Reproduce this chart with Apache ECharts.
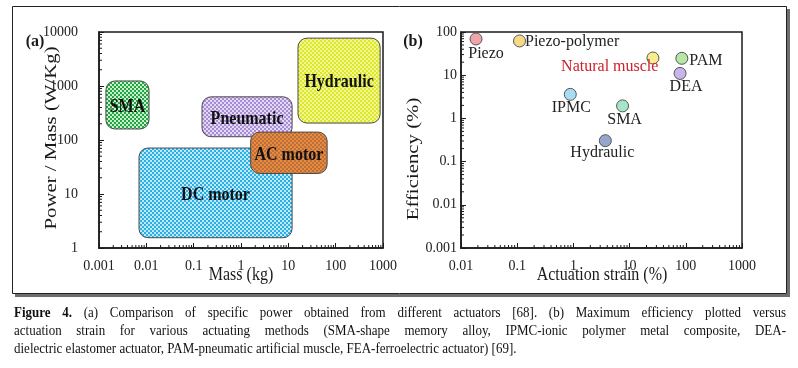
<!DOCTYPE html>
<html><head><meta charset="utf-8">
<script src="https://cdn.jsdelivr.net/npm/echarts@6/dist/echarts.min.js"></script>
<style>html,body{margin:0;padding:0;background:#fff}#c{width:798px;height:368px}</style>
</head><body><div id="c"></div>
<script>
// ---------- Panel (a): specific power vs mass (regions) ----------
const boxNames     = ['DC motor', 'Pneumatic', 'AC motor', 'SMA', 'Hydraulic'];
const boxMassMin   = [0.007, 0.15, 1.6, 0.0014, 16];
const boxMassMax   = [12, 12, 66, 0.0114, 870];
const boxPowerMin  = [1.55, 115, 24, 160, 206];
const boxPowerMax  = [71, 630, 140, 1240, 7700];

// ---------- Panel (b): efficiency vs actuation strain ----------
const actNames      = ['Piezo', 'Piezo-polymer', 'Natural muscle', 'PAM', 'DEA', 'IPMC', 'SMA', 'Hydraulic'];
const actStrain     = [0.0185, 0.11, 26, 85, 79, 0.88, 7.5, 3.7];
const actEfficiency = [69, 62, 25, 24.6, 11, 3.6, 1.95, 0.305];

// ---------- Tick labels ----------
const massTicks   = ['0.001', '0.01', '0.1', '1', '10', '100', '1000'];
const powerTicks  = ['1', '10', '100', '1000', '10000'];
const strainTicks = ['0.01', '0.1', '1', '10', '100', '1000'];
const effTicks    = ['0.001', '0.01', '0.1', '1', '10', '100'];

// ---------- Text ----------
const captionLines = [
  'Figure 4. (a) Comparison of specific power obtained from different actuators [68]. (b) Maximum efficiency plotted versus',
  'actuation strain for various actuating methods (SMA-shape memory alloy, IPMC-ionic polymer metal composite, DEA-',
  'dielectric elastomer actuator, PAM-pneumatic artificial muscle, FEA-ferroelectric actuator) [69].'
];

// ---------- Styles ----------
const SERIF = "'Liberation Serif', 'DejaVu Serif', serif";
const boxStyle = {
  'DC motor':  ['#2bb0e6', '#bfe9f9'],
  'Pneumatic': ['#a68cd4', '#e4d9f3'],
  'AC motor':  ['#ea8a3a', '#b8703e'],
  'SMA':       ['#22a443', '#c9efcf'],
  'Hydraulic': ['#dbe62c', '#f1f68e']
};
const actStyle = {
  'Piezo':          {color: '#f0a3a8', pos: 'bottom', dist: 0,  off: [10, 0], text: '#222'},
  'Piezo-polymer':  {color: '#f7da86', pos: 'right',  dist: -1, off: [0, 1],  text: '#222'},
  'Natural muscle': {color: '#f4ef8a', pos: 'left',   dist: -12, off: [0, 9], text: '#d0202a'},
  'PAM':            {color: '#b8e6a8', pos: 'right',  dist: 1,  off: [0, 2],  text: '#222'},
  'DEA':            {color: '#cab4ec', pos: 'bottom', dist: -1, off: [6, 0],  text: '#222'},
  'IPMC':           {color: '#a6ddf5', pos: 'bottom', dist: -1, off: [1, 0],  text: '#222'},
  'SMA':            {color: '#a6e5c6', pos: 'bottom', dist: -1, off: [2, 0],  text: '#222'},
  'Hydraulic':      {color: '#97a6cc', pos: 'bottom', dist: -2, off: [-3, 0], text: '#222'}
};

function checker(c1, c2) {
  const cv = document.createElement('canvas');
  cv.width = 4; cv.height = 4;
  const g = cv.getContext('2d');
  g.fillStyle = c2; g.fillRect(0, 0, 4, 4);
  g.fillStyle = c1; g.fillRect(0, 0, 2, 2); g.fillRect(2, 2, 2, 2);
  return {image: cv, repeat: 'repeat'};
}
const patterns = {};
boxNames.forEach(n => patterns[n] = checker(boxStyle[n][0], boxStyle[n][1]));

function tickFmt(list, offset) {
  return v => list[Math.round(Math.log10(v)) + offset] || '';
}

// minor tick positions (axis decoration only)
function minorVals(k0, k1) {
  const out = [];
  for (let k = k0; k < k1; k++) for (let m = 2; m <= 9; m++) out.push(m * Math.pow(10, k));
  return out;
}

const chart = echarts.init(document.getElementById('c'), null, {renderer: 'canvas'});

const axisCommon = {
  type: 'log', logBase: 10,
  axisLine: {show: true, onZero: false, lineStyle: {color: '#1a1a1a', width: 1.5}},
  axisTick: {show: true, inside: true, length: 5, lineStyle: {color: '#1a1a1a', width: 1}},
  splitLine: {show: false},
  minorTick: {show: false},
  minorSplitLine: {show: false}
};
const labelCommon = {fontFamily: SERIF, fontSize: 14, color: '#222'};

function minorTickSeries(xi, axis, vals, fixed) {
  return {
    type: 'custom', xAxisIndex: xi, yAxisIndex: xi, silent: true, z: 5,
    data: vals.map(v => axis === 'x' ? [v, fixed] : [fixed, v]),
    renderItem: (params, api) => {
      const p = api.coord([api.value(0), api.value(1)]);
      const shape = axis === 'x'
        ? {x1: p[0], y1: p[1], x2: p[0], y2: p[1] - 3}
        : {x1: p[0], y1: p[1], x2: p[0] + 3, y2: p[1]};
      return {type: 'line', shape, style: {stroke: '#1a1a1a', lineWidth: 1}};
    }
  };
}

// caption layout (justified)
const measureCtx = document.createElement('canvas').getContext('2d');
const capGraphics = [];
const capLeft = 14, capRight = 786, capY = [313, 331, 349], capSize = 13;
captionLines.forEach((line, li) => {
  const words = line.split(' ');
  const fonts = words.map((w, wi) => (li === 0 && wi < 2) ? 'bold ' + capSize + 'px ' + SERIF : capSize + 'px ' + SERIF);
  const widths = words.map((w, wi) => { measureCtx.font = fonts[wi]; return measureCtx.measureText(w).width; });
  measureCtx.font = capSize + 'px ' + SERIF;
  const spaceW = measureCtx.measureText(' ').width;
  const total = widths.reduce((a, b) => a + b, 0);
  const justify = li < captionLines.length - 1;
  const gap = justify ? (capRight - capLeft - total) / (words.length - 1) : spaceW;
  let x = capLeft;
  words.forEach((w, wi) => {
    capGraphics.push({
      type: 'text', x: x, y: capY[li], silent: true, scaleY: 1.1,
      style: {text: w, font: fonts[wi], fill: '#111', textAlign: 'left', textVerticalAlign: 'middle', align: 'left', verticalAlign: 'middle'}
    });
    x += widths[wi] + gap;
  });
});

function txt(text, x, y, opts) {
  return Object.assign({
    type: 'text', x: x, y: y, silent: true,
    style: Object.assign({text: text, fill: '#1a1a1a', fontFamily: SERIF, fontSize: 16,
      textAlign: 'center', textVerticalAlign: 'middle', align: 'center', verticalAlign: 'middle'}, opts && opts.style || {})
  }, opts && opts.el || {});
}

const option = {
  backgroundColor: '#fff',
  animation: false,
  grid: [
    {left: 99, top: 32, width: 284, height: 216, show: true, borderColor: '#1a1a1a', borderWidth: 1.5, backgroundColor: 'transparent'},
    {left: 461, top: 32, width: 281, height: 216, show: true, borderColor: '#1a1a1a', borderWidth: 1.5, backgroundColor: 'transparent'}
  ],
  xAxis: [
    Object.assign({}, axisCommon, {gridIndex: 0, min: 0.001, max: 1000, splitNumber: 6,
      axisLabel: Object.assign({}, labelCommon, {margin: 11, formatter: tickFmt(massTicks, 3)})}),
    Object.assign({}, axisCommon, {gridIndex: 1, min: 0.01, max: 1000, splitNumber: 5,
      axisLabel: Object.assign({}, labelCommon, {margin: 11, formatter: tickFmt(strainTicks, 2)})})
  ],
  yAxis: [
    Object.assign({}, axisCommon, {gridIndex: 0, min: 1, max: 10000, splitNumber: 4,
      axisLabel: Object.assign({}, labelCommon, {margin: 21, formatter: tickFmt(powerTicks, 0)})}),
    Object.assign({}, axisCommon, {gridIndex: 1, min: 0.001, max: 100, splitNumber: 5,
      axisLabel: Object.assign({}, labelCommon, {margin: 4, formatter: tickFmt(effTicks, 3)})})
  ],
  graphic: [
    // outer frame with shadow
    {type: 'rect', silent: true, shape: {x: 787, y: 9, width: 3, height: 288}, style: {fill: '#6e6e6e'}},
    {type: 'rect', silent: true, shape: {x: 15, y: 294, width: 775, height: 3}, style: {fill: '#6e6e6e'}},
    {type: 'rect', silent: true, shape: {x: 12.5, y: 6.5, width: 774, height: 287}, style: {fill: 'none', stroke: '#222', lineWidth: 1}},
    txt('(a)', 35, 42, {style: {fontWeight: 'bold', fontSize: 16}}),
    txt('(b)', 413, 42, {style: {fontWeight: 'bold', fontSize: 16}}),
    txt('Power / Mass (W/Kg)', 52, 138, {el: {rotation: Math.PI / 2, scaleX: 1.3}}),
    txt('Efficiency (%)', 414, 159, {el: {rotation: Math.PI / 2, scaleX: 1.3}}),
    txt('Mass (kg)', 241, 275, {el: {scaleY: 1.15}}),
    txt('Actuation strain (%)', 602, 275, {el: {scaleY: 1.15}})
  ].concat(capGraphics),
  series: [
    {
      type: 'custom', xAxisIndex: 0, yAxisIndex: 0, z: 3,
      data: boxNames.map((n, i) => [boxMassMin[i], boxPowerMin[i], boxMassMax[i], boxPowerMax[i], i]),
      renderItem: (params, api) => {
        const p0 = api.coord([api.value(0), api.value(3)]);
        const p1 = api.coord([api.value(2), api.value(1)]);
        const name = boxNames[api.value(4)];
        return {
          type: 'group', children: [
            {type: 'rect', shape: {x: p0[0], y: p0[1], width: p1[0] - p0[0], height: p1[1] - p0[1], r: 9},
             style: {fill: patterns[name], stroke: '#4a4a4a', lineWidth: 1}},
            {type: 'text', x: (p0[0] + p1[0]) / 2, y: (p0[1] + p1[1]) / 2 + 2, scaleY: 1.15,
             style: {text: name, fontFamily: SERIF, fontSize: 16, fontWeight: 'bold', fill: '#111',
                     textAlign: 'center', textVerticalAlign: 'middle', align: 'center', verticalAlign: 'middle'}}
          ]
        };
      }
    },
    minorTickSeries(0, 'x', minorVals(-3, 3), 1),
    minorTickSeries(0, 'y', minorVals(0, 4), 0.001),
    minorTickSeries(1, 'x', minorVals(-2, 3), 0.001),
    minorTickSeries(1, 'y', minorVals(-3, 2), 0.01),
    {
      type: 'scatter', xAxisIndex: 1, yAxisIndex: 1, z: 4, symbol: 'circle', symbolSize: 12,
      itemStyle: {borderColor: '#555', borderWidth: 1, opacity: 1},
      data: actNames.map((n, i) => {
        const s = actStyle[n];
        return {
          name: n, value: [actStrain[i], actEfficiency[i]],
          itemStyle: {color: s.color},
          label: {show: true, formatter: n, position: s.pos, distance: s.dist, offset: s.off,
                  fontFamily: SERIF, fontSize: 16, color: s.text}
        };
      })
    }
  ]
};
chart.setOption(option);
</script></body></html>
